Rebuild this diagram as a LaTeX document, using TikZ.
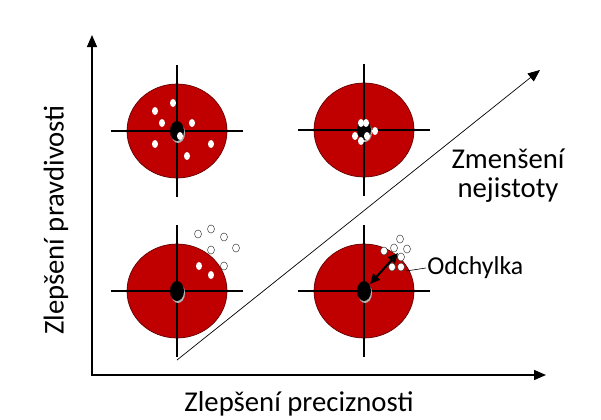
\documentclass[tikz,border=0pt]{standalone}
\usepackage{fontspec}
\setmainfont{Carlito}
\usetikzlibrary{arrows.meta,calc,shapes.geometric}
\definecolor{targetred}{RGB}{192,0,0}
\definecolor{rimred}{RGB}{100,0,0}

\begin{document}
\begin{tikzpicture}[x=0.03cm, y=-0.03cm, >={Triangle[length=0.36cm, width=0.3cm]},
  lab/.style={font=\fontsize{24.5}{25}\selectfont, inner sep=1pt},
  target/.style={ellipse, draw=rimred, fill=targetred, line width=0.6pt, minimum width=3cm, minimum height=2.82cm, inner sep=0pt},
  cross/.style={draw=black, line width=1pt},
  hit/.style={fill=white},
  miss/.style={draw=black!80, fill=white, line width=0.4pt}]
  \useasboundingbox (0,0) rectangle (601,419);
  \coordinate (o) at (92,375);
  \coordinate (ytip) at (92,35);
  \coordinate (xtip) at (546,375);
  \coordinate (dstart) at (177,360);
  \coordinate (dtip) at (540,70);
  \node[target] (tl) at (177,131) {};
  \node[target] (tr) at (364,130) {};
  \node[target] (bl) at (177,291) {};
  \node[target] (br) at (364,291) {};
  % crosshairs and bull's-eyes
  \foreach \t in {tl,tr,bl,br} {
    \draw[cross] ($(\t)+(0,-66)$) -- ($(\t)+(0,66)$);
    \draw[cross] ($(\t)+(-66,0)$) -- ($(\t)+(66,0)$);
    \fill[gray!60] ($(\t)+(1,2)$) ellipse[x radius=7, y radius=10];
    \fill[black] (\t) ellipse[x radius=7, y radius=10];
  }
  % shots
  \foreach \dx/\dy in {-4/-28, -22/-20, -15/-8, 15/-8, 3/5, -22/13, 34/13, 10/25}
    \fill[hit] ($(tl)+(\dx,\dy)$) ellipse[x radius=3, y radius=4];
  \foreach \dx/\dy in {-3/-7, 2/-7, -9/6, 3/6, 11/1, -3/11}
    \fill[hit] ($(tr)+(\dx,\dy)$) ellipse[x radius=3, y radius=4];
  \foreach \dx/\dy in {22/-25, 34/-16}
    \fill[hit] ($(bl)+(\dx,\dy)$) ellipse[x radius=3, y radius=4];
  \foreach \dx/\dy in {21/-57, 34/-62, 47/-54, 34/-41, 59/-43, 47/-25}
    \draw[miss] ($(bl)+(\dx,\dy)$) ellipse[x radius=3.5, y radius=4];
  \foreach \dx/\dy in {36/-52, 30/-43, 43/-42, 20/-40, 37/-34, 28/-24, 37/-24}
    \draw[miss] ($(br)+(\dx,\dy)$) ellipse[x radius=3.5, y radius=4];
  % labels
  \node[lab, rotate=90] (ylab) at (56,220) {Zlepšení pravdivosti};
  \node[lab] (xlab) at (299,404) {Zlepšení preciznosti};
  \node[lab, align=center] (unc) at (508,176) {Zmenšení\\nejistoty};
  \node[font=\fontsize{22}{26}\selectfont, anchor=west, inner sep=1pt] (dev) at (426,268) {Odchylka};
  \coordinate (devpt) at (406,271);
  \coordinate (devA) at (398,253);
  \coordinate (devB) at (370,284);
  % edges
  \draw[<->, line width=1.2pt] (ytip) -- (o) -- (xtip);
  \draw[->, line width=0.6pt] (dstart) -- (dtip);
  \draw[line width=0.5pt] (dev.west) -- (devpt);
  \draw[<->, line width=1.8pt, >={Triangle[length=0.3cm, width=0.27cm]}] (devA) -- (devB);
\end{tikzpicture}
\end{document}
